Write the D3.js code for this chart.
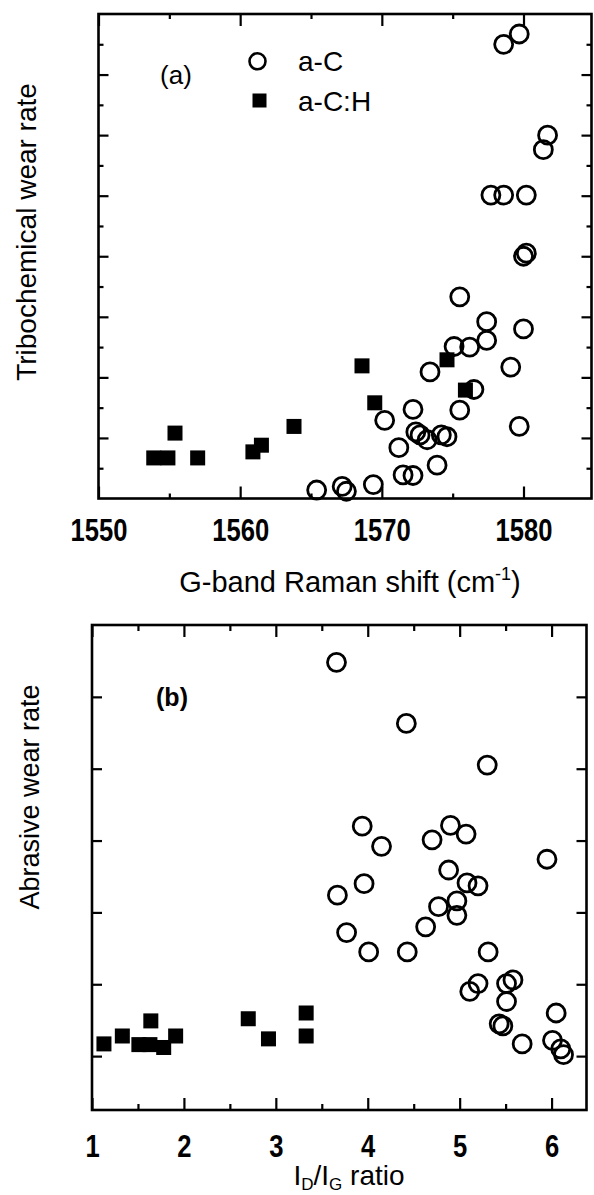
<!DOCTYPE html>
<html>
<head>
<meta charset="utf-8">
<script src="https://cdn.jsdelivr.net/npm/d3@7"></script>
<style>
  body { margin: 0; background: #fff; }
  svg { display: block; }
  text { font-family: "Liberation Sans", Arial, sans-serif; fill: #000; }
</style>
</head>
<body>
<div id="figure"></div>
<script>
// Panel (a) — G-band Raman shift vs tribochemical wear rate
const ramanAC   = [1565.4, 1567.2, 1567.5, 1569.4, 1570.2, 1571.2, 1571.5, 1572.2, 1572.2, 1572.4,
                   1572.7, 1573.2, 1573.4, 1573.9, 1574.2, 1574.6, 1575.1, 1575.5, 1575.5, 1576.2,
                   1576.5, 1577.4, 1577.4, 1577.7, 1578.6, 1578.6, 1579.1, 1579.7, 1579.7, 1580.0,
                   1580.0, 1580.2, 1580.2, 1581.4, 1581.7];
const tribAC    = [0.14, 0.20, 0.12, 0.23, 1.29, 0.84, 0.39, 0.38, 1.47, 1.10,
                   1.05, 0.97, 2.09, 0.55, 1.05, 1.02, 2.51, 1.46, 3.33, 2.50,
                   1.80, 2.61, 2.92, 5.01, 5.01, 7.50, 2.17, 1.19, 7.67, 2.80,
                   4.00, 4.05, 5.01, 5.76, 6.00];
const ramanACH  = [1553.9, 1554.9, 1555.4, 1557.0, 1560.9, 1561.5, 1563.8, 1568.6, 1569.5, 1574.6, 1575.9];
const tribACH   = [0.67, 0.67, 1.08, 0.67, 0.77, 0.88, 1.19, 2.19, 1.58, 2.29, 1.79];
const ramanTicks = [1550, 1560, 1570, 1580];

// Panel (b) — ID/IG ratio vs abrasive wear rate
const ratioAC   = [3.66, 4.42, 5.30, 3.94, 4.15, 4.70, 4.90, 5.07, 5.95, 4.88,
                   3.67, 3.96, 3.77, 4.01, 4.43, 4.63, 4.77, 4.97, 4.97, 5.08,
                   5.20, 5.31, 5.11, 5.20, 5.51, 5.58, 5.51, 5.43, 5.47, 5.68,
                   6.05, 6.01, 6.10, 6.13];
const abrAC     = [6.48, 5.63, 5.05, 4.20, 3.92, 4.01, 4.21, 4.09, 3.74, 3.59,
                   3.24, 3.40, 2.72, 2.45, 2.45, 2.80, 3.08, 3.16, 2.96, 3.41,
                   3.37, 2.45, 1.90, 2.01, 2.01, 2.06, 1.76, 1.45, 1.42, 1.17,
                   1.60, 1.22, 1.10, 1.02];
const ratioACH  = [1.13, 1.33, 1.51, 1.63, 1.64, 1.78, 1.91, 2.70, 2.92, 3.33, 3.33];
const abrACH    = [1.17, 1.28, 1.16, 1.16, 1.49, 1.12, 1.28, 1.52, 1.24, 1.60, 1.28];
const ratioTicks = [1, 2, 3, 4, 5, 6];

const largeur = 594, hauteur = 1195;

const svg = d3.select("#figure").append("svg")
    .attr("width", largeur)
    .attr("height", hauteur);

// ticks on all four sides, pointing inward; labels only under the bottom majors
function cadre(g, x, y, opt) {
    const [x0, x1] = x.range();
    const [y0, y1] = y.range();   // y0 = bas, y1 = haut

    const sets = [
        { axe: d3.axisBottom(x), vals: opt.xMinor, len: opt.xMinorLen, tr: [0, y0] },
        { axe: d3.axisBottom(x), vals: opt.xMajor, len: opt.xMajorLen, tr: [0, y0], labels: true },
        { axe: d3.axisTop(x),    vals: opt.xMinor, len: opt.xMinorLen, tr: [0, y1] },
        { axe: d3.axisTop(x),    vals: opt.xMajor, len: opt.xMajorLen, tr: [0, y1] },
        { axe: d3.axisLeft(y),   vals: opt.yMinor, len: opt.yMinorLen, tr: [x0, 0] },
        { axe: d3.axisLeft(y),   vals: opt.yMajor, len: opt.yMajorLen, tr: [x0, 0] },
        { axe: d3.axisRight(y),  vals: opt.yMinor, len: opt.yMinorLen, tr: [x1, 0] },
        { axe: d3.axisRight(y),  vals: opt.yMajor, len: opt.yMajorLen, tr: [x1, 0] }
    ];

    sets.forEach(s => {
        if (!s.vals.length) return;
        const a = s.axe.tickValues(s.vals).tickSize(-s.len)
            .tickFormat(s.labels ? d3.format("d") : () => "")
            .tickPadding(opt.pad);
        const ga = g.append("g").attr("transform", `translate(${s.tr})`).call(a);
        ga.select(".domain").remove();
        ga.selectAll(".tick line").attr("stroke", "#000").attr("stroke-width", 2.2);
        // police étroite et grasse, comme le scan
        ga.selectAll(".tick text")
            .attr("font-family", "'Liberation Sans', Arial, sans-serif")
            .attr("font-weight", "bold")
            .attr("font-size", 32)
            .attr("fill", "#000")
            .attr("transform", "scale(0.8,1)");
    });

    g.append("rect")
        .attr("x", x0).attr("y", y1)
        .attr("width", x1 - x0).attr("height", y0 - y1)
        .attr("fill", "none").attr("stroke", "#000").attr("stroke-width", 2.6);
}

function points(g, x, y, xs, ys, forme) {
    const d = xs.map((v, i) => [v, ys[i]]);
    if (forme === "cercle") {
        g.selectAll(null).data(d).join("circle")
            .attr("cx", p => x(p[0])).attr("cy", p => y(p[1]))
            .attr("r", 9).attr("fill", "none")
            .attr("stroke", "#000").attr("stroke-width", 2.8);
    } else {
        const c = 15;
        g.selectAll(null).data(d).join("rect")
            .attr("x", p => x(p[0]) - c / 2).attr("y", p => y(p[1]) - c / 2)
            .attr("width", c).attr("height", c).attr("fill", "#000");
    }
}

// Panneau (a)
const xA = d3.scaleLinear().domain([1550, 1584.8]).range([98.5, 591.5]);
const yA = d3.scaleLinear().domain([0, 8]).range([498.5, 14]);
const gA = svg.append("g");

cadre(gA, xA, yA, {
    xMajor: ramanTicks, xMinor: [1555, 1565, 1575], xMajorLen: 12, xMinorLen: 5,
    yMajor: d3.range(1, 8), yMinor: d3.range(0.5, 8, 1), yMajorLen: 10, yMinorLen: 5,
    pad: 20
});
points(gA, xA, yA, ramanAC, tribAC, "cercle");
points(gA, xA, yA, ramanACH, tribACH, "carre");

gA.append("text").attr("x", 176).attr("y", 84).attr("text-anchor", "middle")
    .attr("font-size", 26).text("(a)");
gA.append("circle").attr("cx", 257.5).attr("cy", 61.3).attr("r", 8)
    .attr("fill", "none").attr("stroke", "#000").attr("stroke-width", 2.6);
gA.append("rect").attr("x", 252.5).attr("y", 93.5).attr("width", 14).attr("height", 14)
    .attr("fill", "#000");
gA.append("text").attr("x", 298).attr("y", 71).attr("font-size", 28).text("a-C");
gA.append("text").attr("x", 298).attr("y", 110.5).attr("font-size", 28).text("a-C:H");

const titreX = gA.append("text").attr("x", 350).attr("y", 592)
    .attr("text-anchor", "middle").attr("font-size", 29);
titreX.append("tspan").text("G-band Raman shift (cm");
titreX.append("tspan").attr("font-size", 18).attr("dy", -12).text("-1");
titreX.append("tspan").attr("dy", 12).text(")");

gA.append("text").attr("transform", "translate(36,232) rotate(-90)")
    .attr("text-anchor", "middle").attr("font-size", 28).text("Tribochemical wear rate");

// Panneau (b)
const xB = d3.scaleLinear().domain([1, 6.38]).range([92, 586.5]);
const yB = d3.scaleLinear().domain([0.25, 7]).range([1110, 625]);
const gB = svg.append("g");

cadre(gB, xB, yB, {
    xMajor: ratioTicks, xMinor: d3.range(1.5, 6.5, 1), xMajorLen: 12, xMinorLen: 6,
    yMajor: d3.range(1, 7), yMinor: [], yMajorLen: 10, yMinorLen: 0,
    pad: 24
});
points(gB, xB, yB, ratioAC, abrAC, "cercle");
points(gB, xB, yB, ratioACH, abrACH, "carre");

gB.append("text").attr("x", 172).attr("y", 706).attr("text-anchor", "middle")
    .attr("font-size", 25).attr("font-weight", "bold").text("(b)");

const titreB = gB.append("text").attr("x", 349).attr("y", 1185)
    .attr("text-anchor", "middle").attr("font-size", 28);
titreB.append("tspan").text("I");
titreB.append("tspan").attr("font-size", 17).attr("dy", 5).text("D");
titreB.append("tspan").attr("dy", -5).text("/I");
titreB.append("tspan").attr("font-size", 17).attr("dy", 5).text("G");
titreB.append("tspan").attr("dy", -5).text(" ratio");

gB.append("text").attr("transform", "translate(39,797) rotate(-90)")
    .attr("text-anchor", "middle").attr("font-size", 27).text("Abrasive wear rate");
</script>
</body>
</html>
